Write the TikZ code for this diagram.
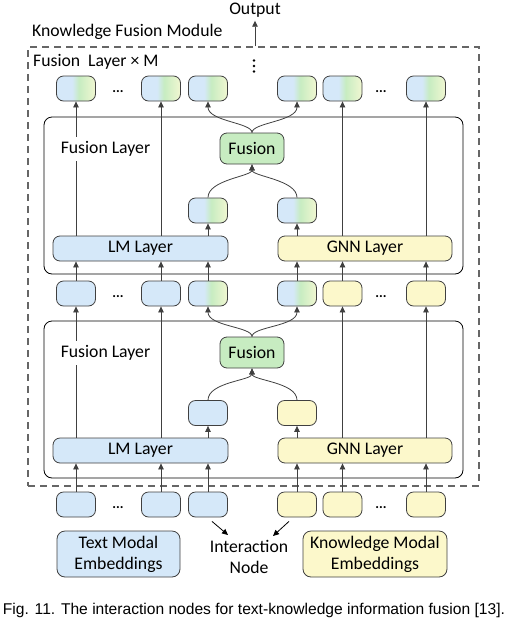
\documentclass[tikz,border=0pt]{standalone}
\usepackage{fontspec}
\setmainfont{Carlito}
\newfontfamily\capfont{Liberation Sans}
\usetikzlibrary{arrows.meta}
\definecolor{lmblue}{HTML}{D5E8F9}
\definecolor{gnnyel}{HTML}{FCF8CB}
\definecolor{fusgreen}{HTML}{C7ECC1}
\definecolor{mixend}{HTML}{F1F7D2}
\definecolor{edge}{HTML}{404040}
\definecolor{dashgray}{HTML}{666666}
\pgfdeclarehorizontalshading{tokmix}{100bp}{color(0bp)=(lmblue); color(45bp)=(lmblue); color(54bp)=(fusgreen); color(75bp)=(mixend); color(100bp)=(mixend)}
\begin{document}
\begin{tikzpicture}[x=1pt, y=-1pt, >={Triangle[length=6pt,width=5.5pt]},
  font=\fontsize{17.7}{21}\selectfont,
  tok/.style={draw=edge, line width=0.8pt, rounded corners=7pt, minimum width=39pt, minimum height=25pt, inner sep=0pt},
  tokb/.style={tok, fill=lmblue},
  toky/.style={tok, fill=gnnyel},
  tokm/.style={tok, shading=tokmix},
  layerbox/.style={draw=edge, line width=0.8pt, rounded corners=7pt, minimum height=25pt, inner sep=0pt},
  fusbox/.style={draw=edge, line width=0.8pt, rounded corners=7pt, fill=fusgreen, minimum width=64pt, minimum height=31pt, inner sep=0pt},
  flbox/.style={draw=black, line width=0.8pt, rounded corners=8pt, minimum width=419pt, minimum height=157pt},
  link/.style={draw=edge, line width=0.8pt},
  dots/.style={font=\bfseries\fontsize{14}{14}\selectfont}]
\useasboundingbox (0,0) rectangle (511,622);
% module frame and titles
\node[draw=dashgray, dash pattern=on 7pt off 5pt, line width=1.2pt, minimum width=451pt, minimum height=439pt] (KFM) at (253.5,266.5) {};
\node (OUT) at (255,10) {Output};
\node[anchor=west, inner sep=0pt] (KT) at (32,32) {Knowledge Fusion Module};
\node[anchor=west, inner sep=0pt] (FM) at (33,62) {Fusion~~Layer × M};
\fill (254,60.5) circle (1.4pt) (254,66) circle (1.4pt) (254,71.5) circle (1.4pt);
\draw[link, ->] (KFM.north -| OUT) -- (OUT.south);
% fusion layers
\node[flbox] (FL2) at (253.5,195.5) {};
\node[flbox] (FL1) at (253.5,399.5) {};
% top row
\node[tokm] (T1) at (76,88.5) {};
\node[tokm] (T2) at (161,88.5) {};
\node[tokm] (T3) at (208,88.5) {};
\node[tokm] (T4) at (297,88.5) {};
\node[tokm] (T5) at (342.5,88.5) {};
\node[tokm] (T6) at (426,88.5) {};
\node[dots] at (118,92) {...};
\node[dots] at (381,92) {...};
% upper fusion layer
\node[fusbox] (F2) at (252,148.5) {Fusion};
\node[tokm] (U3) at (208,210.5) {};
\node[tokm] (U4) at (297,210.5) {};
\node[layerbox, fill=lmblue, minimum width=175pt] (LM2) at (140.5,248.5) {LM Layer};
\node[layerbox, fill=gnnyel, minimum width=174pt] (GNN2) at (365,248.5) {GNN Layer};
% middle row
\node[tokb] (M1) at (76,293.5) {};
\node[tokb] (M2) at (161,293.5) {};
\node[tokm] (M3) at (208,293.5) {};
\node[tokm] (M4) at (297,293.5) {};
\node[toky] (M5) at (342.5,293.5) {};
\node[toky] (M6) at (426,293.5) {};
\node[dots] at (118,297) {...};
\node[dots] at (381,297) {...};
% lower fusion layer
\node[fusbox] (F1) at (252,352.5) {Fusion};
\node[tokb] (L3) at (208,413) {};
\node[toky] (L4) at (297,413) {};
\node[layerbox, fill=lmblue, minimum width=175pt] (LM1) at (140.5,450.5) {LM Layer};
\node[layerbox, fill=gnnyel, minimum width=174pt] (GNN1) at (365,450.5) {GNN Layer};
% bottom row
\node[tokb] (B1) at (76,504.5) {};
\node[tokb] (B2) at (161,504.5) {};
\node[tokb] (B3) at (208,504.5) {};
\node[toky] (B4) at (297,504.5) {};
\node[toky] (B5) at (342.5,504.5) {};
\node[toky] (B6) at (426,504.5) {};
\node[dots] at (118,508) {...};
\node[dots] at (381,508) {...};
% connectors, upper layer
\draw[link, ->] (LM2.north -| T1) -- (T1.south);
\draw[link, ->] (LM2.north -| T2) -- (T2.south);
\draw[link, ->] (GNN2.north -| T5) -- (T5.south);
\draw[link, ->] (GNN2.north -| T6) -- (T6.south);
\draw[link, ->] (LM2.north -| U3) -- (U3.south);
\draw[link, ->] (GNN2.north -| U4) -- (U4.south);
\draw[link, ->] (U3.north) .. controls +(0,-18) and +(0,12) .. (F2.south);
\draw[link, ->] (U4.north) .. controls +(0,-18) and +(0,12) .. (F2.south);
\draw[link, ->] (F2.north) .. controls +(0,-10) and +(0,20) .. (T3.south);
\draw[link, ->] (F2.north) .. controls +(0,-10) and +(0,20) .. (T4.south);
\draw[link, ->] (M1.north) -- (LM2.south -| M1);
\draw[link, ->] (M2.north) -- (LM2.south -| M2);
\draw[link, ->] (M3.north) -- (LM2.south -| M3);
\draw[link, ->] (M4.north) -- (GNN2.south -| M4);
\draw[link, ->] (M5.north) -- (GNN2.south -| M5);
\draw[link, ->] (M6.north) -- (GNN2.south -| M6);
% connectors, lower layer
\draw[link, ->] (LM1.north -| M1) -- (M1.south);
\draw[link, ->] (LM1.north -| M2) -- (M2.south);
\draw[link, ->] (GNN1.north -| M5) -- (M5.south);
\draw[link, ->] (GNN1.north -| M6) -- (M6.south);
\draw[link, ->] (LM1.north -| L3) -- (L3.south);
\draw[link, ->] (GNN1.north -| L4) -- (L4.south);
\draw[link, ->] (L3.north) .. controls +(0,-18) and +(0,12) .. (F1.south);
\draw[link, ->] (L4.north) .. controls +(0,-18) and +(0,12) .. (F1.south);
\draw[link, ->] (F1.north) .. controls +(0,-10) and +(0,20) .. (M3.south);
\draw[link, ->] (F1.north) .. controls +(0,-10) and +(0,20) .. (M4.south);
\draw[link, ->] (B1.north) -- (LM1.south -| B1);
\draw[link, ->] (B2.north) -- (LM1.south -| B2);
\draw[link, ->] (B3.north) -- (LM1.south -| B3);
\draw[link, ->] (B4.north) -- (GNN1.south -| B4);
\draw[link, ->] (B5.north) -- (GNN1.south -| B5);
\draw[link, ->] (B6.north) -- (GNN1.south -| B6);
% layer labels over the lines
\node[fill=white, inner xsep=5pt, inner ysep=4pt] (FLT2) at (105.5,149) {Fusion Layer};
\node[fill=white, inner xsep=5pt, inner ysep=4pt] (FLT1) at (105.5,353) {Fusion Layer};
% inputs
\node[align=center, inner sep=0pt] (IN) at (249,557) {Interaction\\Node};
\coordinate (IA) at (228,535);
\coordinate (IB) at (273,536);
\draw[line width=0.8pt, ->] ([xshift=4pt,yshift=-4pt]B3.south) -- (IA);
\draw[line width=0.8pt, ->] ([xshift=-8pt,yshift=-4pt]B4.south) -- (IB);
\node[draw=edge, line width=0.8pt, rounded corners=8pt, fill=lmblue, align=center, minimum width=123pt, minimum height=46pt, inner sep=0pt] (TME) at (118.5,554) {Text Modal\\Embeddings};
\node[draw=edge, line width=0.8pt, rounded corners=8pt, fill=gnnyel, align=center, minimum width=144pt, minimum height=46pt, inner sep=0pt] (KME) at (375,554) {Knowledge Modal\\Embeddings};
% caption
\node[font=\capfont\fontsize{15.6}{17}\selectfont, inner sep=0pt] (CAP) at (254,610) {Fig. 11. The interaction nodes for text-knowledge information fusion [13].};
\end{tikzpicture}
\end{document}
